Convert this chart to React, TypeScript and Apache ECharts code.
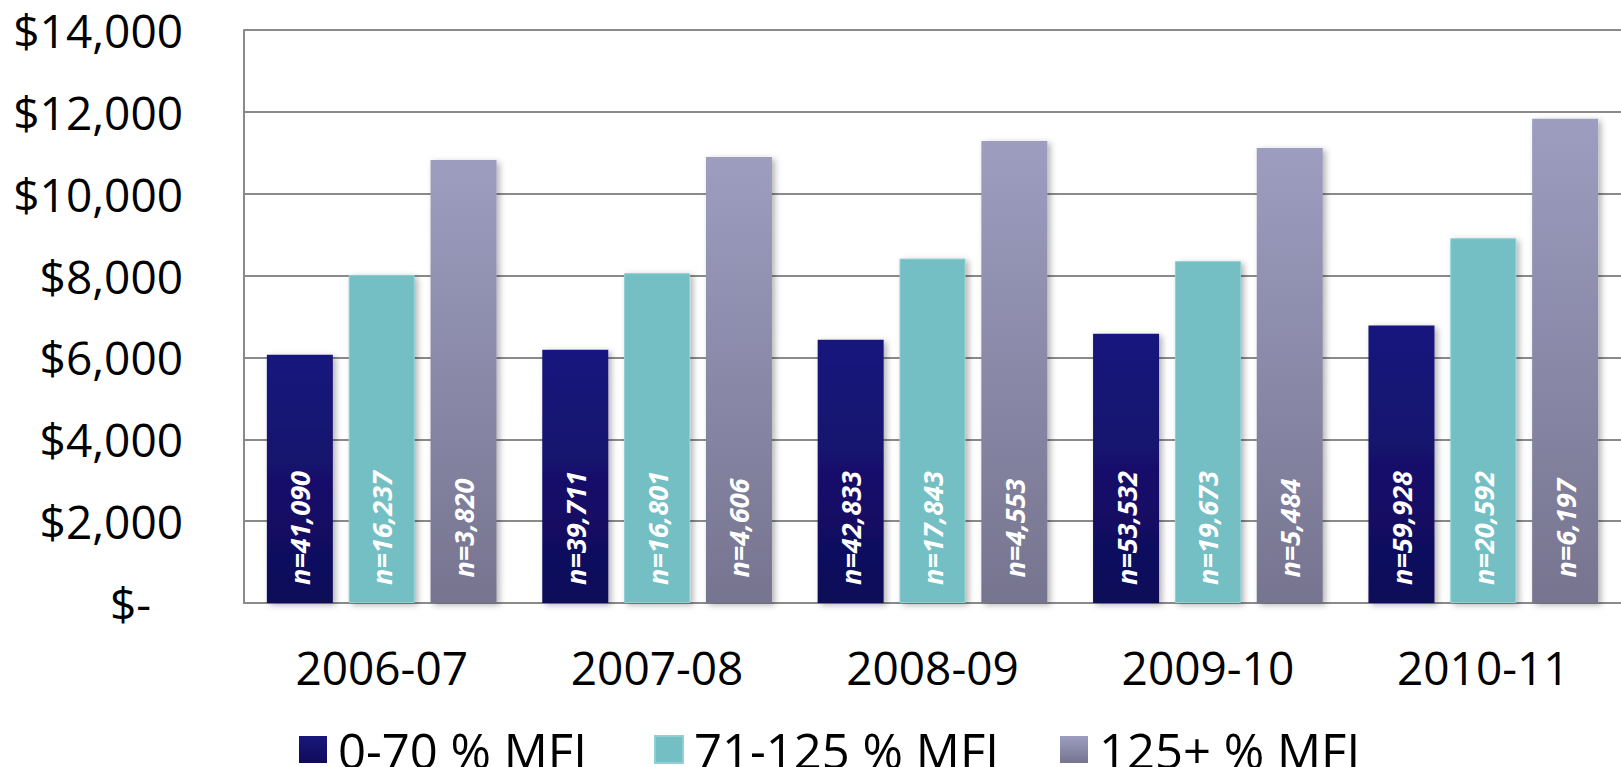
import React, { useEffect, useRef } from "react";
import * as echarts from "echarts";

const categories = ["2006-07", "2007-08", "2008-09", "2009-10", "2010-11"];
const seriesNames = ["0-70 % MFI", "71-125 % MFI", "125+ % MFI"];
const lowValues = [6063, 6186, 6430, 6576, 6779];
const midValues = [8017, 8059, 8415, 8352, 8913];
const highValues = [10825, 10899, 11289, 11118, 11829];
const lowCounts = ["41,090", "39,711", "42,833", "53,532", "59,928"];
const midCounts = ["16,237", "16,801", "17,843", "19,673", "20,592"];
const highCounts = ["3,820", "4,606", "4,553", "5,484", "6,197"];
const yMin = 0;
const yMax = 14000;
const yInterval = 2000;

const FONT = "'Open Sans', 'Noto Sans', sans-serif";

export default function App() {
  const ref = useRef<HTMLDivElement>(null);

  useEffect(() => {
    if (!ref.current) return;
    const chart = echarts.init(ref.current, null, { renderer: "svg" });

    const darkColor = new echarts.graphic.LinearGradient(0, 0, 0, 1, [
      { offset: 0, color: "#19177e" },
      { offset: 1, color: "#0f0b58" },
    ]);
    const tealColor = "#73bfc4";
    const purpleColor = new echarts.graphic.LinearGradient(0, 0, 0, 1, [
      { offset: 0, color: "#9d9dc0" },
      { offset: 1, color: "#76748f" },
    ]);

    const barLabel = (counts: string[]) => ({
      show: true,
      position: "insideBottom",
      distance: 75,
      rotate: 90,
      align: "center",
      verticalAlign: "middle",
      color: "#ffffff",
      fontFamily: FONT,
      fontSize: 27,
      fontWeight: "bold",
      fontStyle: "italic",
      formatter: (p: any) => "n=" + counts[p.dataIndex],
    });

    const shadow = {
      shadowBlur: 6,
      shadowColor: "rgba(0,0,0,0.3)",
      shadowOffsetX: 3,
      shadowOffsetY: 2,
    };

    const legendBase = {
      orient: "horizontal",
      top: 720,
      itemWidth: 28,
      itemHeight: 27,
      icon: "rect",
      selectedMode: false,
      textStyle: {
        fontFamily: FONT,
        fontSize: 49,
        color: "#000000",
        padding: [0, 0, 0, 6],
      },
    };

    chart.setOption({
      animation: false,
      backgroundColor: "#ffffff",
      grid: {
        left: 244,
        top: 30,
        width: 1390,
        height: 573,
        containLabel: false,
      },
      legend: [
        { ...legendBase, left: 294, data: [seriesNames[0]] },
        { ...legendBase, left: 649, data: [seriesNames[1]] },
        { ...legendBase, left: 1055, data: [seriesNames[2]] },
      ],
      xAxis: {
        type: "category",
        data: categories,
        axisLine: { show: true, lineStyle: { color: "#8a8a8a", width: 2 } },
        axisTick: { show: false },
        axisLabel: {
          fontFamily: FONT,
          fontSize: 46,
          color: "#000000",
          margin: 41,
        },
      },
      yAxis: {
        type: "value",
        min: yMin,
        max: yMax,
        interval: yInterval,
        axisLine: { show: true, lineStyle: { color: "#8a8a8a", width: 2 } },
        axisTick: { show: false },
        splitLine: { show: true, lineStyle: { color: "#8a8a8a", width: 2 } },
        axisLabel: {
          fontFamily: FONT,
          fontSize: 46,
          color: "#000000",
          margin: 61,
          formatter: (v: number) =>
            v === 0 ? "{z|$-}" : "$" + v.toLocaleString("en-US"),
          rich: {
            z: {
              fontFamily: FONT,
              fontSize: 46,
              color: "#000000",
              padding: [0, 32, 0, 0],
            },
          },
        },
      },
      series: [
        {
          name: seriesNames[0],
          type: "bar",
          data: lowValues,
          barWidth: 66,
          barGap: "24%",
          itemStyle: { color: darkColor, ...shadow },
          label: barLabel(lowCounts),
        },
        {
          name: seriesNames[1],
          type: "bar",
          data: midValues,
          barWidth: 66,
          barGap: "24%",
          itemStyle: { color: tealColor, borderColor: "#8fd0d5", borderWidth: 1, ...shadow },
          label: barLabel(midCounts),
        },
        {
          name: seriesNames[2],
          type: "bar",
          data: highValues,
          barWidth: 66,
          barGap: "24%",
          itemStyle: { color: purpleColor, ...shadow },
          label: barLabel(highCounts),
        },
      ],
    });

    return () => {
      chart.dispose();
    };
  }, []);

  return (
    <div
      ref={ref}
      style={{
        position: "fixed",
        left: 0,
        top: 0,
        width: 1621,
        height: 767,
        overflow: "hidden",
        background: "#ffffff",
      }}
    />
  );
}
